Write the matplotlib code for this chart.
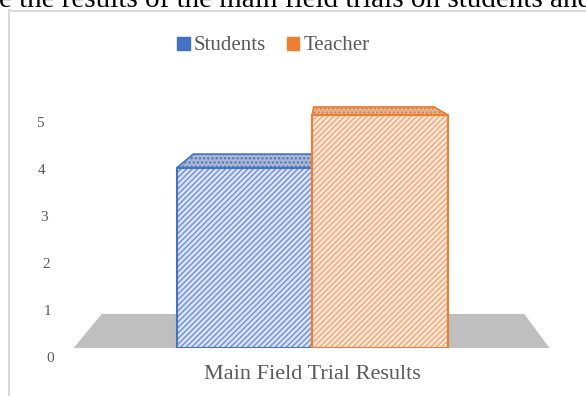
import matplotlib
matplotlib.use("Agg")
import matplotlib.pyplot as plt
import numpy as np
from matplotlib.patches import Polygon, Patch
from matplotlib.lines import Line2D
from matplotlib.transforms import ScaledTranslation, IdentityTransform

plt.rcParams['font.family'] = ['Liberation Serif', 'DejaVu Serif']
plt.rcParams['hatch.linewidth'] = 1.0

# data
series = ["Students", "Teacher"]
values = [3.83, 4.96]
category = "Main Field Trial Results"
yticks = [0, 1, 2, 3, 4, 5]

faces = ["#dae3f3", "#fbe5d6"]
hatch_cols = ["#6f8fd0", "#f0a878"]
edges = ["#4472c4", "#ed7d31"]
tops = ["#aab6d0", "#dcb597"]
grey = "#595959"

W, H = 586, 396
fig = plt.figure(figsize=(W / 100, H / 100), dpi=100)
ax = fig.add_axes([75 / W, 48 / H, 488 / W, 263.2 / H])
ax.set_xlim(-1.75, 1.85)
ax.set_ylim(0, 5.6)
for s in ax.spines.values():
    s.set_visible(False)

# fake perspective: back edges pulled toward a vanishing point (display px)
vp = np.array([325.0, H - 44.0])
depth = 0.112


def back(pts):
    return pts + depth * (vp - pts)


def to_px(pts):
    return ax.transData.transform(np.asarray(pts, dtype=float))


# floor
front = to_px([[-1.76, 0], [1.75, 0]])
floor = np.vstack([front, back(front)[::-1]])
ax.add_patch(Polygon(floor, closed=True, facecolor="#bfbfbf", edgecolor="none",
                     transform=IdentityTransform(), zorder=1, clip_on=False))

offsets = [-0.5, 0.5]
for i, name in enumerate(series):
    z = 2 + 3 * i
    ax.bar(offsets[i], values[i], width=1, color=faces[i], edgecolor=hatch_cols[i],
           hatch="//////", linewidth=0, zorder=z)
    ax.bar(offsets[i], values[i], width=1, fill=False, edgecolor=edges[i],
           linewidth=1.5, zorder=z + 1)
    tf = to_px([[offsets[i] - 0.5, values[i]], [offsets[i] + 0.5, values[i]]])
    top = np.vstack([tf, back(tf)[::-1]])
    ax.add_patch(Polygon(top, closed=True, facecolor=tops[i], edgecolor=edges[i],
                         hatch="....", linewidth=1.2, transform=IdentityTransform(),
                         zorder=z - 1, clip_on=False))

ax.set_yticks(yticks)
ax.set_yticklabels([str(v) for v in yticks])
ax.tick_params(axis="y", length=0, pad=19, labelsize=11, labelcolor=grey)
for k, lab in enumerate(ax.get_yticklabels()):
    dx = (2.5 - k) * 2 / 100
    lab.set_transform(lab.get_transform() + ScaledTranslation(dx, -9 / 100, fig.dpi_scale_trans))

ax.set_xticks([0])
ax.set_xticklabels([category])
ax.tick_params(axis="x", length=0, pad=12, labelsize=16, labelcolor=grey)

handles = [Patch(facecolor=edges[i], edgecolor=edges[i], hatch="\\", linewidth=1)
           for i in range(len(series))]
fig.legend(handles, series, loc="center", bbox_to_anchor=(273.5 / W, 1 - 46 / H),
           ncol=2, frameon=False, fontsize=15, handlelength=0.6, handleheight=0.6,
           handletextpad=0.2, columnspacing=1.0, labelcolor=grey)

# chart frame and the clipped caption line above it
fig.add_artist(Line2D([8.5 / W, 8.5 / W], [0, 1 - 10 / H], color="#d9d9d9", lw=1.5))
fig.add_artist(Line2D([8.5 / W, 1], [1 - 10.5 / H, 1 - 10.5 / H], color="#d9d9d9", lw=1.5))
fig.text(-0.002, 1 - 7 / H, "e the results of the main field trials on students and",
         fontsize=21, ha="left", va="baseline", color="black")

fig.savefig("out.png", dpi=100)
